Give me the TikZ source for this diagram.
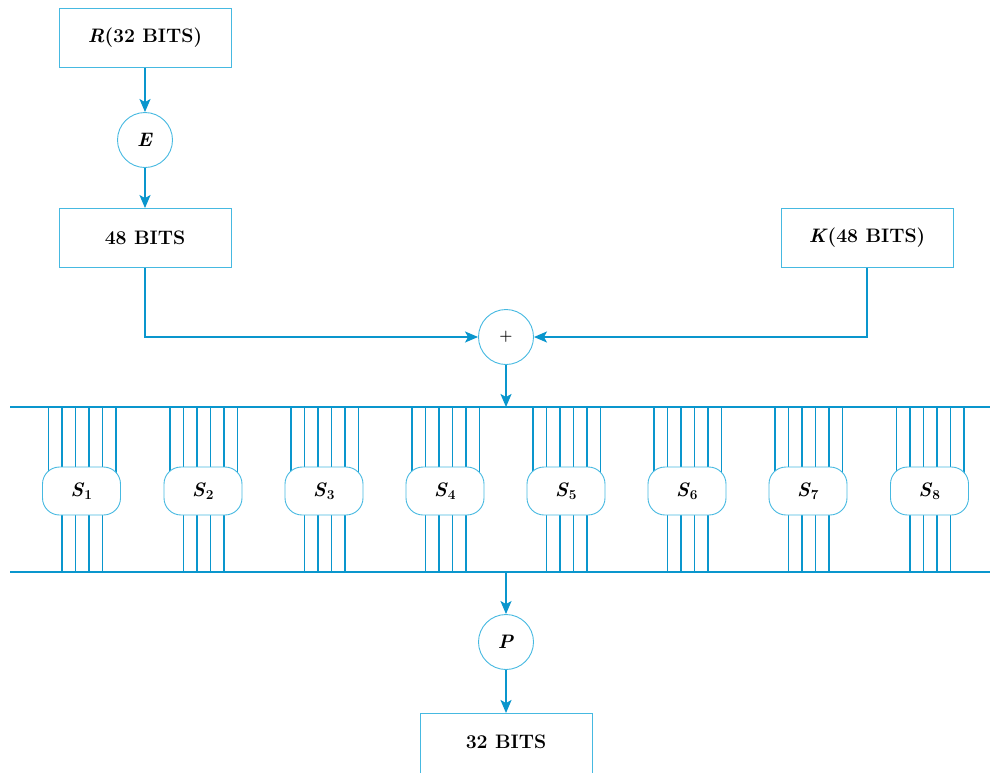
\documentclass[tikz,border=0pt]{standalone}
\usetikzlibrary{arrows.meta,backgrounds,calc}
\definecolor{lineblue}{RGB}{10,150,205}
\definecolor{boxblue}{RGB}{70,185,225}
\newcommand{\bi}[1]{\textbf{\textit{#1}}}
\begin{document}
\begin{tikzpicture}[x=1pt,y=-1pt,
  boxn/.style={draw=boxblue, line width=0.9pt, minimum width=172pt, minimum height=59pt, inner sep=0pt, font=\fontsize{19.5}{22}\selectfont\bfseries},
  circn/.style={circle, draw=boxblue, line width=0.9pt, fill=white, minimum size=55pt, inner sep=0pt, font=\fontsize{19.5}{22}\selectfont},
  sboxn/.style={rounded corners=17pt, draw=boxblue, fill=white, line width=0.9pt, minimum width=78pt, minimum height=48pt, inner sep=0pt, font=\fontsize{19.5}{22}\selectfont},
  conn/.style={draw=lineblue, line width=1.8pt},
  arrn/.style={conn, -{Stealth[length=13pt,width=11pt,inset=3pt]}},
  barn/.style={draw=lineblue, line width=2.6pt},
  wiren/.style={draw=lineblue, line width=1.7pt}]
\useasboundingbox (0,0) rectangle (990,772);
\clip (0,0) rectangle (990,772);
\node[boxn] (R) at (145,38) {\bi{R}(32 BITS)};
\node[circn] (E) at (145,140) {\bi{E}};
\node[boxn] (B48) at (145,238) {48 BITS};
\node[boxn] (K) at (867,238) {\bi{K}(48 BITS)};
\node[circn, font=\fontsize{15}{18}\selectfont] (X) at (506,337) {\textbf{+}};
\node[circn] (P) at (506,642) {\bi{P}};
\node[boxn, minimum height=100pt, anchor=north] (O) at (506,713) {};
\node[font=\fontsize{19.5}{22}\selectfont\bfseries] (Ot) at (506,742) {32 BITS};
\coordinate (TL) at (10,407);
\coordinate (TR) at (990,407);
\coordinate (BL) at (10,572);
\coordinate (BR) at (990,572);
\draw[barn] (TL) -- (TR);
\draw[barn] (BL) -- (BR);
\draw[arrn] (R) -- (E);
\draw[arrn] (E) -- (B48);
\draw[arrn] (B48.south) |- (X.west);
\draw[arrn] (K.south) |- (X.east);
\draw[arrn] (X) -- (X |- TL);
\draw[arrn] (P |- BL) -- (P);
\draw[arrn] (P) -- (O.north);
\foreach \i/\x in {1/81.5,2/203,3/324,4/445,5/566,6/687,7/808,8/929.5}{
  \node[sboxn] (S\i) at (\x,491) {\bi{S}\textsubscript{\textbf{\i}}};
  \begin{scope}[on background layer]
    \foreach \d in {-33,-19.5,-6,7.5,21,34.5}
      \draw[wiren] (S\i.center) ++(\d,0) coordinate (w) -- (w |- TL);
    \foreach \d in {-19.5,-6,7.5,21}
      \draw[wiren] (S\i.center) ++(\d,0) coordinate (w) -- (w |- BL);
  \end{scope}
}
\end{tikzpicture}
\end{document}
